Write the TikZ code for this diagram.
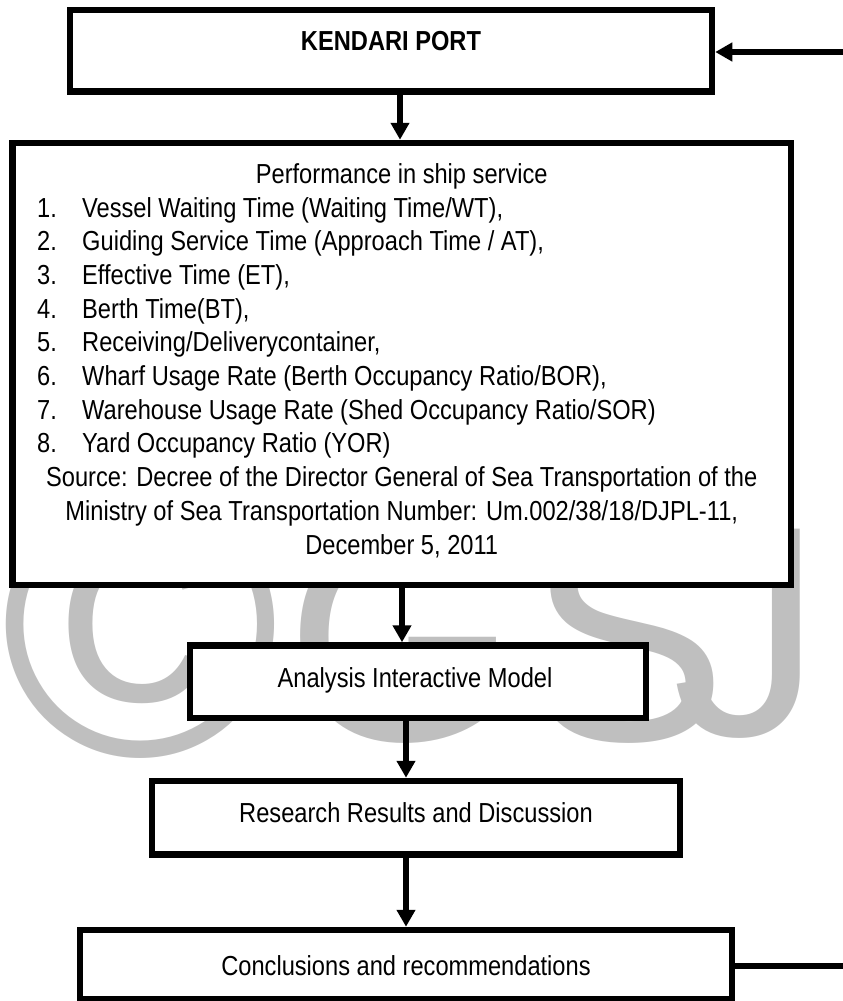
\documentclass[tikz,border=0pt]{standalone}
\usepackage{fontspec}
\setmainfont{Liberation Sans}
\newfontfamily\nf[FakeStretch=0.86]{Liberation Sans}
\usetikzlibrary{arrows.meta}
\begin{document}
\begin{tikzpicture}[x=1pt,y=-1pt,
  box/.style={draw=black,line width=6.5pt,fill=white,inner sep=0pt},
  conn/.style={line width=5.5pt,-{Triangle[length=17pt,width=18pt]}},
  plain/.style={line width=5.5pt},
  txt/.style={inner sep=0pt,font=\nf\fontsize{27.5}{33.7}\selectfont},
  wmark/.style={inner sep=0pt,text=black!25,anchor=base west},
]
\useasboundingbox (0,0) rectangle (843,1001);
% watermark
\node[wmark,font=\fontsize{380}{380}\selectfont] (wm1) at (0,755) {©};
\node[wmark,font=\fontsize{300}{300}\selectfont] (wm2) at (285,740) {G};
\node[wmark,font=\fontsize{300}{300}\selectfont] (wm3) at (527,740) {S};
\node[wmark,font=\fontsize{300}{300}\selectfont] (wm4) at (672,735) {J};
% boxes
\node[box,minimum width=642pt,minimum height=81.5pt] (port) at (391,50.75) {};
\node[box,minimum width=778.5pt,minimum height=442pt] (main) at (401.75,364) {};
\node[box,minimum width=456pt,minimum height=72.5pt] (anal) at (418,681.75) {};
\node[box,minimum width=528pt,minimum height=73.5pt] (res) at (416,817.75) {};
\node[box,minimum width=652pt,minimum height=69pt] (concl) at (406,964.5) {};
% texts
\node[txt,anchor=base,font=\nf\bfseries\fontsize{27.5}{33.7}\selectfont] (tport) at (391,50) {KENDARI PORT};
\node[txt,anchor=base] (thead) at (401.75,183) {Performance in ship service};
\foreach \i/\t in {1/{Vessel Waiting Time (Waiting Time/WT),},
                   2/{Guiding Service Time (Approach Time / AT),},
                   3/{Effective Time (ET),},
                   4/{Berth Time(BT),},
                   5/{Receiving/Deliverycontainer,},
                   6/{Wharf Usage Rate (Berth Occupancy Ratio/BOR),},
                   7/{Warehouse Usage Rate (Shed Occupancy Ratio/SOR)},
                   8/{Yard Occupancy Ratio (YOR)}} {
  \node[txt,anchor=base west] (n\i) at (37,{217+33.7*(\i-1)}) {\i.};
  \node[txt,anchor=base west] (it\i) at (82,{217+33.7*(\i-1)}) {\t};
}
\node[txt,anchor=base] (src1) at (401.75,486.6) {Source: Decree of the Director General of Sea Transportation of the};
\node[txt,anchor=base] (src2) at (401.75,520.3) {Ministry of Sea Transportation Number: Um.002/38/18/DJPL-11,};
\node[txt,anchor=base] (src3) at (401.75,554) {December 5, 2011};
\node[txt,anchor=base] (tanal) at (415,687) {Analysis Interactive Model};
\node[txt,anchor=base] (tres) at (416,822) {Research Results and Discussion};
\node[txt,anchor=base] (tconcl) at (406,975) {Conclusions and recommendations};
% connectors
\coordinate (ax1) at (400,0);
\coordinate (ax2) at (402,0);
\coordinate (ax3) at (406,0);
\coordinate (ax4) at (406,0);
\draw[conn] (ax1 |- port.south) -- (ax1 |- main.north);
\draw[conn] (ax2 |- main.south) -- (ax2 |- anal.north);
\draw[conn] (ax3 |- anal.south) -- (ax3 |- res.north);
\draw[conn] (ax4 |- res.south) -- (ax4 |- concl.north);
\coordinate (fbtop) at (843,52);
\coordinate (fbbot) at (843,966);
\draw[conn] (fbtop) -- (fbtop -| port.east);
\draw[plain] (fbbot -| concl.east) -- (fbbot);
\end{tikzpicture}
\end{document}
